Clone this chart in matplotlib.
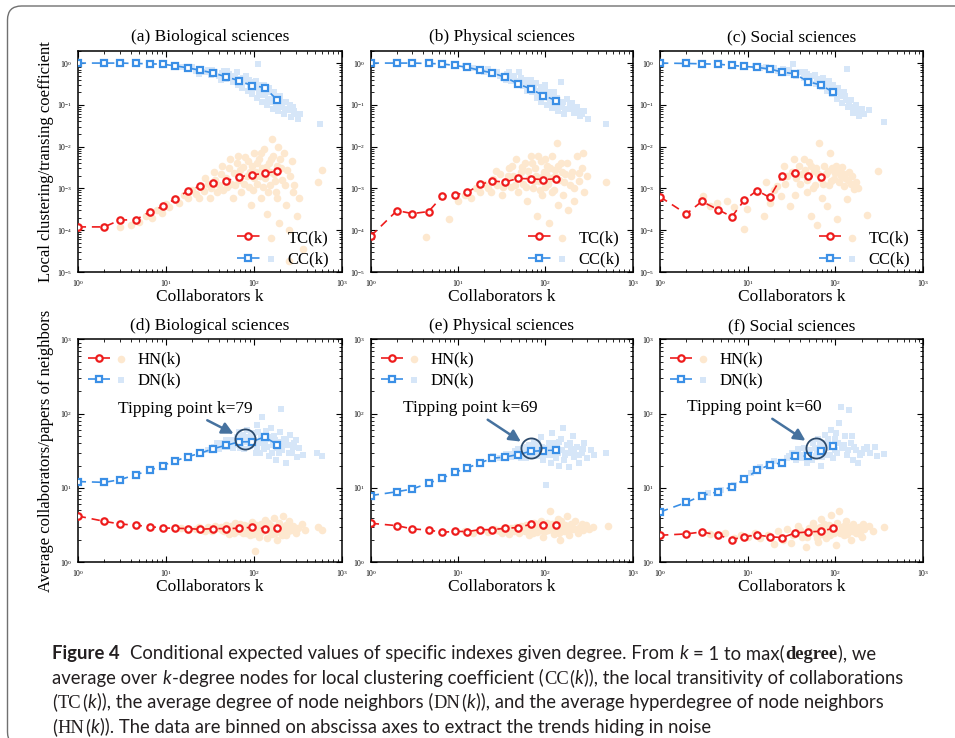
import numpy as np
import matplotlib
matplotlib.use("Agg")
import matplotlib.pyplot as plt
from matplotlib.legend_handler import HandlerTuple
from matplotlib.patches import FancyBboxPatch
from matplotlib.transforms import IdentityTransform

plt.rcParams["font.family"] = ["Liberation Serif", "DejaVu Serif"]
plt.rcParams["mathtext.fontset"] = "stix"

W, H = 955, 738

# binned degree k (shorter series stop earlier)
k_bins = [1, 2, 3, 4.6, 6.6, 9.2, 12.8, 17.8, 24.8, 34.6, 48.5, 68, 95, 133, 186]

# top row: local clustering CC(k) and transitivity TC(k)
cc_bio = [1.0, 1.0, 1.0, 0.98, 0.96, 0.94, 0.86, 0.77, 0.67, 0.58, 0.47, 0.38, 0.29, 0.26, 0.13]
tc_bio = [1.2e-4, 1.2e-4, 1.74e-4, 1.8e-4, 2.75e-4, 3.7e-4, 5.6e-4, 8.7e-4, 1.15e-3, 1.37e-3,
          1.5e-3, 1.9e-3, 2.1e-3, 2.3e-3, 2.6e-3]
cc_phy = [1.0, 1.0, 1.0, 0.98, 0.95, 0.88, 0.79, 0.67, 0.58, 0.46, 0.32, 0.24, 0.167, 0.127]
tc_phy = [7.2e-5, 2.95e-4, 2.5e-4, 2.8e-4, 6.5e-4, 7.1e-4, 8.0e-4, 1.25e-3, 1.5e-3, 1.43e-3,
          1.73e-3, 1.70e-3, 1.63e-3, 1.70e-3]
cc_soc = [1.0, 0.98, 0.96, 0.94, 0.88, 0.83, 0.79, 0.72, 0.61, 0.55, 0.36, 0.30, 0.20]
tc_soc = [6.3e-4, 2.45e-4, 4.9e-4, 3.1e-4, 2.1e-4, 5.3e-4, 8.9e-4, 6.1e-4, 2.0e-3, 2.35e-3,
          2.0e-3, 1.83e-3]

# bottom row: neighbour degree DN(k) and hyperdegree HN(k)
dn_bio = [12.2, 11.9, 12.9, 15.1, 17.3, 20.0, 23.1, 26.4, 29.3, 33.8, 37.5, 41.6, 42.0, 48.5, 38.3]
hn_bio = [4.2, 3.56, 3.28, 3.15, 3.02, 2.90, 2.87, 2.84, 2.78, 2.84, 2.84, 2.87, 2.96, 2.84, 2.93]
dn_phy = [7.9, 8.9, 9.7, 11.6, 13.5, 16.2, 18.6, 21.7, 25.1, 26.1, 28.1, 31.1, 31.8, 32.1]
hn_phy = [3.35, 3.11, 2.81, 2.72, 2.53, 2.61, 2.59, 2.75, 2.75, 2.87, 2.93, 3.25, 3.18, 3.18]
dn_soc = [4.75, 6.4, 7.9, 8.9, 10.4, 13.1, 17.3, 20.4, 21.9, 26.7, 26.9, 31.5, 36.7]
hn_soc = [2.31, 2.41, 2.56, 2.33, 2.02, 2.21, 2.33, 2.21, 2.15, 2.48, 2.56, 2.61, 2.87]

# tipping points (k, DN near the circle)
tip_k = [79, 69, 60]
tip_dn = [45, 34, 35]

# raw (unbinned) points behind the trends, (k, value)
cloud_tc_bio = [(3, 1.2e-4), (4, 1.3e-4), (5, 1.6e-4), (6, 2.2e-4), (7, 2.0e-4), (8, 3.0e-4), (9, 2.6e-4),
                (10, 4.2e-4), (11, 3.5e-4), (13, 5.5e-4), (14, 4.5e-4), (16, 7e-4), (18, 6e-4), (20, 9e-4),
                (22, 7.5e-4), (24, 6e-4), (25, 1.1e-3), (27, 8.5e-4), (28, 1.8e-3), (30, 1.3e-3), (32, 6e-4),
                (33, 1.0e-3), (35, 2.5e-3), (36, 1.6e-3), (38, 8e-4), (40, 1.2e-3), (42, 2.2e-3), (44, 3.5e-3),
                (45, 9e-4), (48, 1.8e-3), (50, 1.1e-3), (52, 3e-3), (54, 5e-3), (55, 1.3e-3), (58, 6e-4),
                (60, 2.4e-3), (62, 1.2e-3), (64, 4e-3), (66, 6e-3), (68, 1.6e-3), (70, 2.8e-3), (72, 8e-4),
                (75, 3.2e-3), (78, 1.3e-3), (80, 5.5e-3), (84, 2e-3), (86, 4.5e-3), (88, 1.1e-3), (90, 2.5e-3),
                (92, 4e-4), (96, 3.5e-3), (98, 9e-4), (100, 7e-3), (102, 1.8e-3), (105, 2.5e-3), (108, 4e-3),
                (110, 1.3e-3), (115, 5e-3), (118, 2e-3), (120, 6e-4), (122, 7e-3), (125, 3e-3), (128, 1.1e-3),
                (130, 9e-3), (135, 1.8e-3), (138, 3.2e-3), (140, 2.5e-4), (145, 8e-4), (148, 4e-3),
                (152, 2.5e-3), (155, 1.2e-3), (158, 5e-3), (160, 1.5e-2), (165, 6e-3), (170, 2.2e-3),
                (175, 1.5e-3), (178, 8e-4), (182, 6e-4), (185, 3.5e-3), (190, 1e-2), (195, 1.5e-4),
                (200, 5e-3), (205, 3e-3), (210, 1.6e-3), (220, 7e-3), (225, 1.2e-3), (230, 4e-4),
                (240, 2.8e-3), (250, 1.8e-5), (255, 1e-4), (260, 2e-3), (270, 4.5e-3), (280, 8e-4),
                (290, 1.2e-3), (310, 2.2e-4), (330, 6e-4), (360, 3.5e-5), (540, 1.4e-3), (600, 2.8e-3)]
cloud_cc_bio = [(15, 0.8), (18, 0.72), (20, 0.8), (22, 0.65), (24, 0.55), (25, 0.7), (28, 0.6), (30, 0.68),
                (33, 0.52), (34, 0.7), (36, 0.6), (40, 0.5), (42, 0.4), (44, 0.58), (46, 0.66), (48, 0.42),
                (50, 0.65), (52, 0.55), (55, 0.45), (58, 0.35), (62, 0.5), (64, 0.6), (66, 0.3), (68, 0.4),
                (70, 0.42), (74, 0.25), (76, 0.45), (78, 0.35), (82, 0.5), (86, 0.22), (88, 0.4), (90, 0.3),
                (92, 0.26), (95, 0.18), (98, 0.35), (100, 0.26), (105, 0.38), (108, 0.27), (110, 0.15),
                (112, 0.95), (115, 0.2), (118, 0.22), (122, 0.3), (125, 0.12), (128, 0.17), (130, 0.3),
                (134, 0.24), (136, 0.18), (142, 0.1), (145, 0.14), (150, 0.25), (155, 0.2), (158, 0.14),
                (162, 0.12), (165, 0.08), (168, 0.16), (172, 0.2), (180, 0.11), (185, 0.13), (190, 0.07),
                (195, 0.1), (200, 0.16), (210, 0.09), (215, 0.12), (220, 0.06), (225, 0.08), (235, 0.12),
                (250, 0.075), (260, 0.1), (265, 0.05), (280, 0.09), (290, 0.07), (300, 0.06), (320, 0.045),
                (340, 0.06), (560, 0.034)]
cloud_tc_phy = [(4.3, 7e-5), (7.8, 1.9e-4), (10, 5e-4), (12, 7e-4), (14, 6e-4), (16, 1e-3), (18, 8e-4),
                (20, 1.3e-3), (22, 1e-3), (24, 8e-4), (25, 1.7e-3), (27, 2.6e-3), (28, 1.2e-3), (30, 2.2e-3),
                (32, 7e-4), (33, 1.1e-3), (35, 1.5e-3), (37, 2e-3), (38, 3e-3), (40, 1.1e-3), (42, 3.5e-3),
                (43, 2e-3), (45, 1.2e-3), (46, 5e-3), (48, 8e-4), (50, 1.8e-3), (52, 2.5e-3), (54, 3.2e-3),
                (55, 1.3e-3), (58, 4e-3), (60, 1.1e-3), (62, 5e-4), (64, 2.6e-3), (65, 1.8e-3), (68, 6e-3),
                (70, 4e-3), (72, 1e-3), (74, 1.5e-3), (76, 3e-3), (78, 2e-3), (80, 2.2e-4), (82, 6e-3),
                (84, 1.5e-3), (86, 9e-4), (88, 4.5e-3), (92, 7e-4), (94, 2e-3), (96, 2.5e-3), (98, 5e-3),
                (100, 1.1e-3), (102, 2.2e-3), (105, 3.5e-3), (108, 1.3e-3), (110, 1.5e-4), (112, 3e-3),
                (115, 1.8e-3), (118, 8e-4), (120, 6e-3), (125, 9e-4), (128, 2e-3), (130, 2.8e-3),
                (135, 1.2e-2), (138, 3.5e-3), (140, 4e-4), (145, 1.6e-3), (150, 4e-3), (155, 2.5e-3),
                (160, 7e-4), (165, 1.4e-3), (170, 2.2e-3), (175, 4e-3), (180, 3e-4), (190, 1.2e-3),
                (195, 2e-3), (200, 2.5e-3), (210, 1e-3), (215, 5e-4), (230, 6e-3), (240, 2.4e-3),
                (245, 1.5e-3), (260, 3e-3), (270, 7e-3), (280, 8e-4), (300, 2e-3), (500, 1.4e-3)]
cloud_cc_phy = [(12, 0.85), (15, 0.78), (18, 0.7), (20, 0.62), (22, 0.72), (25, 0.55), (28, 0.62), (30, 0.5),
                (33, 0.45), (35, 0.4), (36, 0.55), (38, 0.6), (40, 0.38), (42, 0.5), (44, 0.48), (46, 0.38),
                (48, 0.32), (50, 0.62), (52, 0.45), (55, 0.28), (58, 0.4), (60, 0.35), (62, 0.22), (64, 0.27),
                (66, 0.32), (68, 0.4), (70, 0.2), (72, 0.25), (75, 0.27), (78, 0.33), (80, 0.15), (82, 0.2),
                (85, 0.22), (88, 0.27), (90, 0.12), (92, 0.17), (95, 0.18), (98, 0.22), (100, 0.3),
                (105, 0.1), (108, 0.2), (110, 0.15), (114, 0.12), (118, 0.085), (122, 0.16), (125, 0.2),
                (128, 0.1), (132, 0.12), (136, 0.15), (140, 0.07), (145, 0.09), (150, 0.35), (155, 0.1),
                (160, 0.12), (165, 0.06), (170, 0.08), (175, 0.14), (185, 0.08), (190, 0.1), (200, 0.11),
                (210, 0.08), (215, 0.065), (230, 0.09), (240, 0.07), (250, 0.055), (265, 0.06), (280, 0.07),
                (310, 0.045), (500, 0.035)]
cloud_tc_soc = [(3.1, 6.7e-4), (3.7, 3.9e-4), (4.5, 4.6e-4), (5.8, 5.1e-4), (6.9, 3.5e-4), (9.0, 1.07e-4),
                (9.8, 3.2e-4), (12.8, 8.0e-4), (15.2, 2.2e-4), (16, 1.4e-3), (18.2, 4.6e-4), (20, 9e-4),
                (21.7, 1.15e-3), (23.7, 6.7e-4), (25.8, 3.5e-3), (27, 1.3e-3), (28.2, 2.0e-3), (30.8, 3.9e-4),
                (32, 2.5e-3), (33.6, 5.0e-3), (35, 7e-4), (36, 1.8e-3), (38.4, 3.5e-3), (40, 1.3e-3),
                (42, 2.2e-3), (43.8, 5.0e-3), (45, 2.8e-3), (47.8, 8.0e-4), (48, 1.6e-3), (50, 4.2e-3),
                (52.2, 2.2e-4), (53, 3.5e-3), (55, 1.0e-3), (57, 2.6e-3), (58, 1.2e-3), (60, 3.0e-3),
                (62.2, 1.3e-4), (64, 2.2e-3), (65, 1.25e-2), (68, 1.67e-3), (70, 6.0e-4), (72, 1.3e-3),
                (74, 3.5e-3), (78, 2.2e-3), (81, 3.9e-4), (82, 2.6e-3), (85, 1.2e-3), (88, 7.2e-3),
                (90, 1.5e-3), (92, 3.0e-3), (96.6, 1.67e-3), (100, 2.4e-3), (102, 3.5e-3), (105, 1.9e-4),
                (110, 1.4e-3), (112, 2.6e-3), (115, 2.0e-3), (120, 3.2e-3), (125, 2.2e-3), (126, 1.15e-3),
                (130, 1.8e-3), (137, 5.6e-4), (140, 1.6e-3), (145, 2.5e-3), (150, 1.3e-3), (155, 2e-3),
                (164, 9.6e-4), (170, 1.4e-3), (179, 1.05e-3), (232, 2.3e-4), (303, 2.6e-3)]
cloud_cc_soc = [(12, 0.85), (14, 0.75), (16, 0.82), (18, 0.7), (20, 0.78), (22, 0.65), (25, 0.72), (28, 0.58),
                (30, 0.68), (33, 0.95), (36, 0.5), (40, 0.6), (44, 0.45), (45, 0.62), (48, 0.55), (50, 0.42),
                (52, 0.38), (56, 0.48), (58, 0.52), (60, 0.32), (62, 0.4), (65, 0.42), (68, 0.35), (70, 0.27),
                (72, 0.45), (75, 0.36), (78, 0.3), (80, 0.22), (84, 0.38), (86, 0.3), (90, 0.24), (92, 0.18),
                (95, 0.3), (98, 0.25), (102, 0.2), (105, 0.14), (108, 0.26), (112, 0.2), (115, 0.16),
                (120, 0.11), (125, 0.2), (128, 0.16), (132, 0.13), (137, 0.72), (140, 0.09), (145, 0.1),
                (150, 0.13), (155, 0.09), (160, 0.065), (172, 0.1), (180, 0.07), (185, 0.055), (200, 0.08),
                (210, 0.06), (243, 0.075), (360, 0.039)]

cloud_hn_bio = [(15, 2.9), (18, 2.75), (22, 2.8), (24, 3.0), (26, 2.7), (28, 2.6), (30, 2.95), (32, 2.8),
                (34, 2.65), (36, 3.05), (38, 2.85), (42, 3.0), (44, 2.7), (46, 2.6), (48, 3.2), (50, 2.8),
                (52, 2.4), (55, 3.1), (58, 2.85), (60, 2.5), (62, 3.4), (65, 2.9), (68, 2.6), (70, 3.3),
                (72, 2.9), (75, 2.45), (78, 3.2), (80, 2.75), (82, 2.5), (85, 3.1), (88, 3.0), (90, 2.3),
                (92, 2.7), (95, 3.5), (98, 2.4), (100, 2.7), (103, 1.4), (105, 3.2), (108, 2.95), (112, 2.8),
                (115, 2.2), (118, 2.5), (120, 3.3), (125, 3.0), (128, 2.6), (132, 2.8), (135, 3.7),
                (140, 2.1), (145, 3.4), (148, 2.9), (152, 2.6), (155, 3.2), (162, 2.4), (165, 3.0),
                (170, 3.9), (175, 2.5), (178, 2.75), (185, 2.0), (190, 2.8), (195, 3.4), (200, 3.1),
                (205, 2.6), (210, 2.3), (215, 4.2), (225, 2.9), (230, 3.2), (235, 2.3), (245, 2.6),
                (250, 3.6), (260, 3.0), (265, 2.7), (280, 3.1), (290, 2.8), (300, 2.5), (320, 2.9),
                (350, 3.3), (380, 2.7), (540, 3.0), (600, 2.7)]
cloud_dn_bio = [(30, 32), (35, 36), (38, 40), (40, 33), (42, 36), (45, 40), (48, 44), (50, 36), (52, 40),
                (55, 44), (58, 35), (60, 38), (62, 42), (65, 48), (68, 56), (70, 34), (72, 40), (75, 52),
                (78, 33), (80, 42), (82, 48), (85, 60), (88, 45), (90, 37), (92, 52), (95, 46), (98, 38),
                (100, 55), (102, 44), (105, 30), (108, 35), (110, 70), (112, 56), (115, 40), (118, 30),
                (120, 50), (122, 45), (125, 90), (130, 33), (135, 40), (138, 58), (142, 36), (145, 45),
                (150, 27), (155, 48), (158, 65), (162, 30), (165, 38), (172, 50), (175, 44), (180, 24),
                (185, 35), (190, 42), (195, 30), (200, 56), (205, 115), (210, 32), (215, 38), (220, 46),
                (230, 22), (235, 44), (245, 38), (250, 30), (260, 52), (275, 30), (280, 36), (290, 40),
                (300, 44), (310, 26), (330, 34), (360, 28), (520, 30), (600, 27)]
cloud_hn_phy = [(12, 2.6), (15, 2.5), (18, 2.7), (22, 2.55), (26, 2.8), (28, 2.7), (30, 2.6), (32, 2.5),
                (34, 2.9), (36, 2.75), (38, 2.4), (40, 2.9), (42, 2.75), (44, 2.6), (46, 3.0), (48, 2.8),
                (50, 2.5), (52, 3.1), (55, 2.85), (58, 2.6), (60, 3.2), (62, 2.9), (65, 2.3), (68, 3.1),
                (70, 2.7), (72, 2.5), (75, 3.4), (78, 2.9), (80, 2.55), (82, 3.3), (85, 2.95), (88, 2.7),
                (90, 3.6), (92, 3.0), (95, 2.2), (98, 2.6), (100, 3.1), (104, 3.4), (108, 2.7), (112, 2.9),
                (113, 4.9), (118, 3.3), (122, 3.2), (125, 2.4), (128, 2.7), (132, 2.9), (136, 3.4),
                (140, 3.8), (144, 2.5), (147, 2.0), (150, 3.6), (155, 3.1), (160, 2.8), (165, 2.6),
                (170, 3.2), (175, 4.2), (180, 2.7), (185, 2.3), (195, 3.3), (200, 3.0), (205, 2.8),
                (220, 3.6), (225, 2.8), (235, 2.5), (250, 3.0), (260, 3.3), (270, 2.7), (290, 3.2),
                (320, 2.8), (350, 3.0), (520, 3.1)]
cloud_dn_phy = [(25, 27), (30, 25), (35, 29), (40, 26), (42, 29), (45, 31), (48, 33), (50, 28), (52, 25),
                (55, 34), (58, 30), (60, 25), (62, 36), (65, 38), (68, 27), (70, 30), (72, 35), (75, 42),
                (78, 32), (80, 27), (82, 40), (85, 35), (88, 29), (90, 48), (92, 36), (95, 24), (98, 28),
                (100, 32), (103, 11), (106, 35), (110, 40), (112, 28), (115, 22), (118, 34), (120, 55),
                (125, 40), (128, 30), (132, 25), (135, 36), (140, 30), (142, 20), (145, 42), (150, 45),
                (155, 32), (160, 65), (165, 24), (168, 28), (175, 38), (180, 30), (185, 19), (190, 40),
                (195, 33), (205, 50), (210, 30), (215, 26), (230, 36), (240, 28), (245, 22), (260, 30),
                (270, 33), (280, 40), (300, 25), (330, 32), (360, 28), (500, 30)]
cloud_hn_soc = [(3.7, 2.4), (4.5, 2.3), (5.5, 2.5), (7, 2.15), (8.5, 2.35), (10, 2.2), (12, 2.45), (14, 2.1),
                (17, 2.3), (20, 1.75), (22, 2.6), (25, 2.0), (28, 2.8), (31, 1.8), (33, 2.3), (35, 2.5),
                (38, 3.1), (40, 2.7), (42, 2.2), (44, 2.4), (46, 1.6), (48, 2.2), (50, 2.9), (52, 2.6),
                (55, 3.4), (58, 2.9), (60, 2.4), (62, 2.1), (64, 1.9), (66, 3.0), (68, 3.8), (70, 2.4),
                (72, 2.7), (75, 3.3), (78, 2.1), (80, 2.7), (84, 3.2), (86, 2.3), (90, 4.3), (92, 3.0),
                (96, 2.5), (100, 2.6), (102, 1.7), (105, 3.4), (110, 4.9), (114, 2.5), (118, 3.0),
                (122, 2.8), (125, 2.3), (128, 3.2), (132, 3.6), (136, 2.4), (140, 2.7), (145, 3.0),
                (150, 2.0), (155, 2.6), (160, 3.3), (172, 2.5), (175, 2.9), (185, 3.0), (190, 2.4),
                (200, 2.2), (205, 3.3), (215, 2.8), (240, 3.1), (270, 2.6), (360, 3.0)]
cloud_dn_soc = [(3.5, 8.5), (5, 9.5), (7, 11), (9, 13.5), (11, 16), (14, 19), (17, 21), (20, 23), (24, 22),
                (28, 25), (30, 27), (32, 30), (36, 24), (38, 33), (40, 28), (42, 25), (44, 34), (46, 30),
                (48, 22), (50, 27), (52, 32), (54, 24), (56, 40), (58, 35), (60, 27), (62, 30), (64, 45),
                (66, 38), (68, 20), (70, 26), (72, 33), (74, 40), (76, 52), (78, 34), (80, 28), (82, 45),
                (85, 38), (88, 28), (90, 60), (92, 36), (95, 25), (98, 32), (100, 45), (102, 55), (105, 30),
                (108, 40), (110, 75), (115, 124), (120, 35), (125, 38), (128, 50), (135, 28), (140, 32),
                (143, 112), (150, 40), (155, 50), (160, 24), (165, 36), (170, 32), (180, 22), (190, 28),
                (200, 30), (210, 33), (230, 36), (250, 30), (280, 36), (300, 27), (360, 29)]

RED = "#ee1c1c"
BLUE = "#3a8fe6"
RED_L = "#fde8cf"
BLUE_L = "#d6e6f8"


def draw_panel(ax, title, blue, red, cloud_b, cloud_r, labels, loc):
    kr, vr = zip(*cloud_r)
    kb, vb = zip(*cloud_b)
    sr = ax.scatter(kr, vr, s=30, marker="o", color=RED_L, linewidths=0, zorder=1)
    sb = ax.scatter(kb, vb, s=13, marker="s", color=BLUE_L, linewidths=0, zorder=1)
    lr, = ax.plot(k_bins[:len(red)], red, ls="--", dashes=(5, 3.5), lw=1.2, color=RED,
                  marker="o", ms=4.6, mfc="white", mec=RED, mew=1.6, zorder=3)
    lb, = ax.plot(k_bins[:len(blue)], blue, ls="--", dashes=(5, 3.5), lw=1.2, color=BLUE,
                  marker="s", ms=3.8, mfc="white", mec=BLUE, mew=1.6, zorder=3)

    ax.set_xscale("log")
    ax.set_yscale("log")
    ax.set_xlim(1, 1000)
    ax.set_title(title, fontsize=12.5, pad=6.5)
    ax.set_xlabel("Collaborators k", fontsize=12.5)
    ax.xaxis.set_label_coords(0.5, -0.075)
    ax.tick_params(which="both", direction="in", top=True, right=True, labelsize=5.5, pad=4)
    ax.tick_params(which="major", length=4, width=0.8)
    ax.tick_params(which="minor", length=2, width=0.6)
    for s in ax.spines.values():
        s.set_linewidth(1.1)

    if loc == "lower right":
        anchor = (0.99, -0.025)
    else:
        anchor = (0.0, 0.99)
    ax.legend([(lr, sr), (lb, sb)], labels, handler_map={tuple: HandlerTuple(ndivide=None, pad=0)},
              loc=loc, bbox_to_anchor=anchor, frameon=False, fontsize=12, handlelength=2.65,
              handletextpad=0.35, labelspacing=0.32, borderaxespad=0.2)


fig = plt.figure(figsize=(W / 100, H / 100), dpi=100)

lefts = [77.7, 370.7, 660.0]
widths = [264, 262, 263]
top_cfg = [("(a) Biological sciences", cc_bio, tc_bio, cloud_cc_bio, cloud_tc_bio),
           ("(b) Physical sciences", cc_phy, tc_phy, cloud_cc_phy, cloud_tc_phy),
           ("(c) Social sciences", cc_soc, tc_soc, cloud_cc_soc, cloud_tc_soc)]
bot_cfg = [("(d) Biological sciences", dn_bio, hn_bio, cloud_dn_bio, cloud_hn_bio, (-43, 22)),
           ("(e) Physical sciences", dn_phy, hn_phy, cloud_dn_phy, cloud_hn_phy, (-44, 29)),
           ("(f) Social sciences", dn_soc, hn_soc, cloud_dn_soc, cloud_hn_soc, (-44, 29))]

for i, (title, cc, tc, cl_cc, cl_tc) in enumerate(top_cfg):
    ax = fig.add_axes([lefts[i] / W, 1 - 272 / H, widths[i] / W, 221.5 / H])
    draw_panel(ax, title, cc, tc, cl_cc, cl_tc, ["TC(k)", "CC(k)"], "lower right")
    ax.set_ylim(1e-5, 2)
    ax.set_yticks([1e-5, 1e-4, 1e-3, 1e-2, 1e-1, 1])
    if i == 0:
        ax.set_ylabel("Local clustering/transing coefficient", fontsize=12)
        ax.yaxis.set_label_coords(-0.09, 0.5)

for i, (title, dn, hn, cl_dn, cl_hn, off) in enumerate(bot_cfg):
    ax = fig.add_axes([lefts[i] / W, 1 - 562.3 / H, widths[i] / W, 223 / H])
    draw_panel(ax, title, dn, hn, cl_dn, cl_hn, ["HN(k)", "DN(k)"], "upper left")
    ax.set_ylim(1, 1000)
    if i == 0:
        ax.set_ylabel("Average collaborators/papers of neighbors", fontsize=12)
        ax.yaxis.set_label_coords(-0.09, 0.5)
    ax.plot([tip_k[i]], [tip_dn[i]], ls="none", marker="o", ms=14.5, mfc="none",
            mec="#2c4a6b", mew=1.3, zorder=5)
    ax.annotate("Tipping point k=%d" % tip_k[i], xy=(tip_k[i], tip_dn[i]), xytext=off,
                textcoords="offset points", ha="center", va="center", fontsize=12.5,
                arrowprops=dict(arrowstyle="-|>,head_length=0.55,head_width=0.28", color="#46729f",
                                lw=1.8, shrinkA=1, shrinkB=9))

# rounded frame around figure + caption
frame = FancyBboxPatch((7.5, -8), 980, 740, boxstyle="round,pad=0,rounding_size=14",
                       transform=IdentityTransform(), fill=False, ec="#707070", lw=1.0)
fig.add_artist(frame)

sans_fam = ["Lato", "Open Sans", "DejaVu Sans"]
sans = dict(family=sans_fam)
sans_b = dict(family=sans_fam, weight="bold")
sans_i = dict(family=sans_fam, style="italic")
serif = dict(family=["Liberation Serif"])
serif_b = dict(family=["Liberation Serif"], weight="bold")

caption = [
    [("Figure 4", sans_b), ("  Conditional expected values of specific indexes given degree. From ", sans),
     ("k", sans_i), (" = 1 to max(", sans), ("degree", serif_b), ("), we", sans)],
    [("average over ", sans), ("k", sans_i), ("-degree nodes for local clustering coefficient (", sans),
     ("CC", serif), ("(", sans), ("k", sans_i), (")), the local transitivity of collaborations", sans)],
    [("(", sans), ("TC", serif), ("(", sans), ("k", sans_i), (")), the average degree of node neighbors (", sans),
     ("DN", serif), ("(", sans), ("k", sans_i), (")), and the average hyperdegree of node neighbors", sans)],
    [("(", sans), ("HN", serif), ("(", sans), ("k", sans_i),
     (")). The data are binned on abscissa axes to extract the trends hiding in noise", sans)],
]
renderer = fig.canvas.get_renderer()


def text_width(s, size, st):
    t = fig.text(0, 0, s, fontsize=size, **st)
    w = t.get_window_extent(renderer).width
    t.remove()
    return w


def draw_caption(size):
    drawn, ends = [], []
    sp = text_width("x x", size, sans) - text_width("xx", size, sans)
    for i, parts in enumerate(caption):
        x = 52.0
        y = H - (659 + 24.7 * i)
        for s, st in parts:
            x += sp * (len(s) - len(s.lstrip(" ")))
            t = fig.text(x / W, y / H, s.strip(" "), fontsize=size, color="#231f20",
                         va="baseline", ha="left", **st)
            drawn.append(t)
            x += t.get_window_extent(renderer).width + 0.6
            x += sp * (len(s) - len(s.rstrip(" ")))
        ends.append(x)
    return drawn, ends


texts, ends = draw_caption(13)
scale = (905 - 52) / (ends[1] - 52)
for t in texts:
    t.remove()
draw_caption(13 * scale)

fig.savefig("out.png", dpi=100)
